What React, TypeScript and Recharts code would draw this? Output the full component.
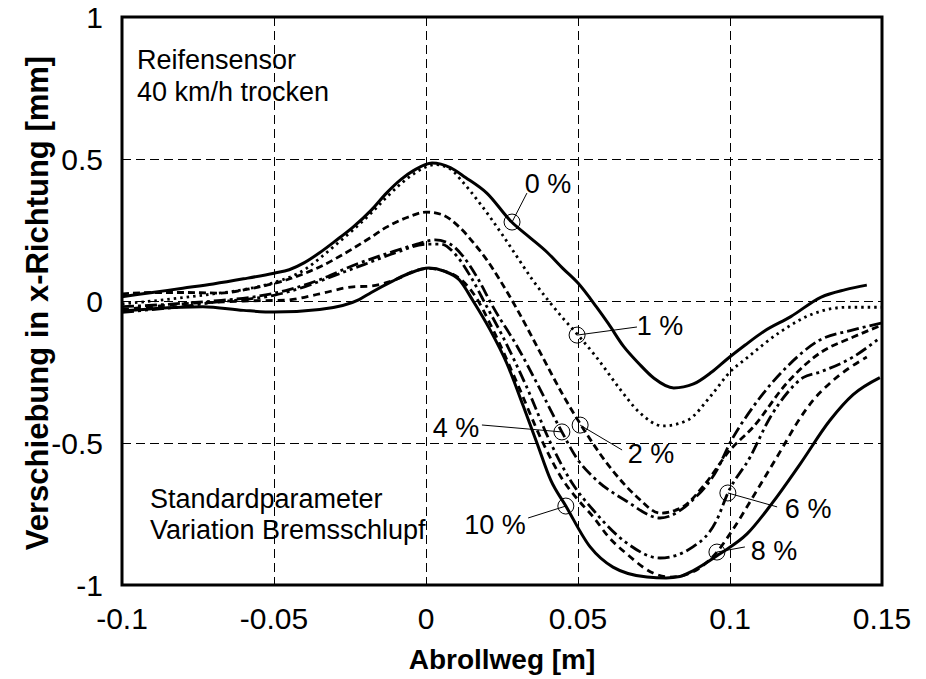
import React from 'react';
import { LineChart, Line, XAxis, YAxis, CartesianGrid, ReferenceArea, ReferenceDot, ReferenceLine } from 'recharts';

// x ticks / y ticks
const xTicks = [-0.1, -0.05, 0, 0.05, 0.1, 0.15];
const yTicks = [-1, -0.5, 0, 0.5, 1];

// 0 % slip (solid)
const s0X = [-0.1, -0.09, -0.08, -0.07, -0.06, -0.05, -0.045, -0.04, -0.035, -0.03, -0.024, -0.018, -0.013, -0.008, -0.004, 0.002, 0.008, 0.013, 0.02, 0.028, 0.034, 0.04, 0.045, 0.05, 0.056, 0.06, 0.065, 0.07, 0.075, 0.0815, 0.088, 0.094, 0.099, 0.105, 0.111, 0.12, 0.13, 0.138, 0.145];
const s0Y = [0.015, 0.03, 0.045, 0.06, 0.078, 0.098, 0.11, 0.135, 0.17, 0.21, 0.26, 0.32, 0.38, 0.43, 0.46, 0.486, 0.47, 0.435, 0.38, 0.28, 0.225, 0.17, 0.115, 0.063, -0.02, -0.08, -0.16, -0.22, -0.272, -0.306, -0.292, -0.25, -0.205, -0.155, -0.108, -0.055, 0.014, 0.04, 0.056];

// 1 % slip (dotted)
const s1X = [-0.1, -0.09, -0.08, -0.07, -0.06, -0.05, -0.04, -0.035, -0.03, -0.024, -0.018, -0.013, -0.008, -0.003, 0.003, 0.008, 0.012, 0.018, 0.025, 0.03, 0.035, 0.04, 0.045, 0.05, 0.056, 0.064, 0.07, 0.078, 0.086, 0.094, 0.1, 0.1056, 0.1164, 0.1273, 0.1385, 0.15];
const s1Y = [-0.01, 0.0, 0.012, 0.025, 0.04, 0.065, 0.11, 0.15, 0.195, 0.25, 0.31, 0.365, 0.415, 0.455, 0.48, 0.465, 0.42, 0.34, 0.235, 0.155, 0.075, 0.005, -0.06, -0.12, -0.197, -0.313, -0.39, -0.44, -0.42, -0.33, -0.25, -0.2, -0.11, -0.045, -0.022, -0.022];

// 2 % slip (dashed)
const s2X = [-0.1, -0.09, -0.08, -0.068, -0.057, -0.046, -0.035, -0.024, -0.018, -0.013, -0.006, 0.0, 0.005, 0.011, 0.016, 0.02, 0.0243, 0.03, 0.0375, 0.045, 0.051, 0.0605, 0.0694, 0.077, 0.0845, 0.091, 0.1, 0.1076, 0.1187, 0.1296, 0.1405, 0.15];
const s2Y = [0.025, 0.03, 0.03, 0.028, 0.045, 0.074, 0.12, 0.185, 0.225, 0.26, 0.295, 0.313, 0.305, 0.26, 0.2, 0.145, 0.074, -0.03, -0.18, -0.33, -0.437, -0.585, -0.69, -0.747, -0.725, -0.655, -0.525, -0.444, -0.289, -0.183, -0.127, -0.085];

// 4 % slip (dash-dot)
const s4X = [-0.1, -0.09, -0.08, -0.07, -0.057, -0.045, -0.035, -0.024, -0.012, -0.003, 0.003, 0.008, 0.012, 0.017, 0.022, 0.03, 0.037, 0.0447, 0.05, 0.055, 0.066, 0.077, 0.0878, 0.0957, 0.1, 0.1076, 0.1187, 0.1296, 0.1405, 0.15];
const s4Y = [-0.02, -0.015, -0.008, 0.0, 0.014, 0.04, 0.075, 0.125, 0.17, 0.2, 0.215, 0.2, 0.16, 0.08, -0.02, -0.16, -0.3, -0.461, -0.56, -0.62, -0.705, -0.764, -0.7, -0.595, -0.5, -0.373, -0.232, -0.137, -0.102, -0.077];

// 6 % slip (dash-dot-dot)
const s6X = [-0.1, -0.09, -0.08, -0.07, -0.06, -0.05, -0.04, -0.03, -0.02, -0.01, 0.0, 0.005, 0.01, 0.015, 0.02, 0.025, 0.033, 0.041, 0.048, 0.055, 0.066, 0.077, 0.0878, 0.0957, 0.0993, 0.1066, 0.1132, 0.1188, 0.124, 0.1296, 0.1405, 0.1493];
const s6Y = [-0.04, -0.03, -0.02, -0.005, 0.005, 0.02, 0.05, 0.09, 0.13, 0.17, 0.2, 0.2, 0.16, 0.08, -0.02, -0.12, -0.3, -0.5, -0.64, -0.736, -0.852, -0.905, -0.866, -0.77, -0.676, -0.55, -0.41, -0.324, -0.27, -0.25, -0.197, -0.13];

// 8 % slip (dashed)
const s8X = [-0.1, -0.09, -0.08, -0.07, -0.06, -0.046, -0.035, -0.024, -0.019, -0.009, -0.004, 0.001, 0.006, 0.011, 0.016, 0.022, 0.03, 0.0385, 0.045, 0.05, 0.055, 0.06, 0.066, 0.0747, 0.08, 0.085, 0.09, 0.0957, 0.1, 0.1089, 0.1174, 0.122, 0.1273, 0.1329, 0.145];
const s8Y = [-0.03, -0.02, -0.01, -0.005, 0.0, 0.003, 0.025, 0.05, 0.052, 0.08, 0.105, 0.115, 0.105, 0.08, 0.02, -0.1, -0.29, -0.5, -0.63, -0.7, -0.76, -0.83, -0.89, -0.958, -0.972, -0.965, -0.94, -0.884, -0.82, -0.666, -0.514, -0.43, -0.35, -0.289, -0.197];

// 10 % slip (solid)
const s10X = [-0.1, -0.09, -0.0734, -0.06, -0.05, -0.035, -0.022, -0.018, -0.011, -0.006, 0.001, 0.006, 0.011, 0.0155, 0.021, 0.0266, 0.032, 0.0365, 0.041, 0.046, 0.054, 0.0615, 0.0727, 0.079, 0.0835, 0.0878, 0.0967, 0.1056, 0.114, 0.123, 0.1329, 0.1405, 0.1493];
const s10Y = [-0.035, -0.027, -0.02, -0.033, -0.039, -0.03, 0.005, 0.03, 0.07, 0.095, 0.116, 0.105, 0.074, 0.0, -0.1, -0.22, -0.37, -0.5, -0.63, -0.722, -0.866, -0.937, -0.972, -0.975, -0.97, -0.95, -0.89, -0.82, -0.71, -0.575, -0.42, -0.33, -0.27];

// annotation labels
const annoText = ['0 %', '1 %', '2 %', '4 %', '6 %', '8 %', '10 %'];
const circleX = [0.0283, 0.0497, 0.0507, 0.0447, 0.0993, 0.0957, 0.046];
const circleY = [0.278, -0.12, -0.437, -0.461, -0.676, -0.884, -0.722];
const leaderX = [0.0332, 0.0694, 0.0645, 0.0184, 0.1155, 0.1049, 0.0336];
const leaderY = [0.38, -0.0915, -0.5246, -0.4366, -0.725, -0.866, -0.764];
const labelX = [0.0401, 0.077, 0.074, 0.0099, 0.1257, 0.1145, 0.0227];
const labelY = [0.4155, -0.0845, -0.535, -0.444, -0.729, -0.877, -0.785];

// free text blocks
const noteText = ['Reifensensor', '40 km/h trocken', 'Standardparameter', 'Variation Bremsschlupf'];
const noteX = [-0.0951, -0.0951, -0.0908, -0.0908];
const noteY = [0.85, 0.737, -0.696, -0.805];

const zip = (xs: number[], ys: number[]) => xs.map((x, i) => ({ x, y: ys[i] }));

const series = [
  { name: '0 %', data: zip(s0X, s0Y), dash: undefined as string | undefined, w: 3 },
  { name: '1 %', data: zip(s1X, s1Y), dash: '2.5 4', w: 2.8 },
  { name: '2 %', data: zip(s2X, s2Y), dash: '7 4', w: 2.8 },
  { name: '4 %', data: zip(s4X, s4Y), dash: '12 4 3 4', w: 2.8 },
  { name: '6 %', data: zip(s6X, s6Y), dash: '12 4 3 4 3 4', w: 2.8 },
  { name: '8 %', data: zip(s8X, s8Y), dash: '7 5', w: 2.8 },
  { name: '10 %', data: zip(s10X, s10Y), dash: undefined, w: 3 },
];

const FONT = '"Liberation Sans", Arial, Helvetica, sans-serif';

export default function App() {
  return (
    <div style={{ position: 'absolute', left: 0, top: 0, width: 926, height: 679, background: '#fff', fontFamily: FONT }}>
      <LineChart width={926} height={679} margin={{ top: 17, right: 44, bottom: 64, left: 62 }}>
        <CartesianGrid
          stroke="#000"
          strokeWidth={1}
          strokeDasharray="9 5"
          shapeRendering="crispEdges"
          horizontalValues={[-0.5, 0, 0.5]}
          verticalValues={[-0.05, 0, 0.05, 0.1]}
        />
        <XAxis
          type="number"
          dataKey="x"
          domain={[-0.1, 0.15]}
          ticks={xTicks}
          height={30}
          axisLine={false}
          tickLine={false}
          tickSize={0}
          tickMargin={23}
          tick={{ fontSize: 30, fill: '#000', fontFamily: FONT }}
          allowDataOverflow
        />
        <YAxis
          type="number"
          dataKey="y"
          domain={[-1, 1]}
          ticks={yTicks}
          width={60}
          axisLine={false}
          tickLine={false}
          tickSize={0}
          tickMargin={19}
          tick={{ fontSize: 30, fill: '#000', fontFamily: FONT }}
          allowDataOverflow
        />
        {series.map((s) => (
          <Line
            key={s.name}
            data={s.data}
            dataKey="y"
            type="monotone"
            stroke="#000"
            strokeWidth={s.w}
            strokeDasharray={s.dash}
            dot={false}
            activeDot={false}
            isAnimationActive={false}
          />
        ))}
        {annoText.map((t, i) => (
          <ReferenceLine
            key={'l' + i}
            segment={[{ x: circleX[i], y: circleY[i] }, { x: leaderX[i], y: leaderY[i] }]}
            stroke="#000"
            strokeWidth={1}
          />
        ))}
        {annoText.map((t, i) => (
          <ReferenceDot key={'c' + i} x={circleX[i]} y={circleY[i]} r={8} fill="none" stroke="#000" strokeWidth={1} />
        ))}
        {annoText.map((t, i) => (
          <ReferenceDot
            key={'t' + i}
            x={labelX[i]}
            y={labelY[i]}
            r={0}
            fill="none"
            stroke="none"
            label={{ value: t, position: 'center', fontSize: 27, fill: '#000', fontFamily: FONT }}
          />
        ))}
        {noteText.map((t, i) => (
          <ReferenceDot
            key={'n' + i}
            x={noteX[i]}
            y={noteY[i]}
            r={0}
            fill="none"
            stroke="none"
            label={{ value: t, position: 'right', offset: 0, fontSize: 27, fill: '#000', fontFamily: FONT }}
          />
        ))}
        <ReferenceArea x1={-0.1} x2={0.15} y1={-1} y2={1} fill="none" fillOpacity={0} stroke="#000" strokeWidth={3} />
        <text x={502} y={669} textAnchor="middle" fontSize={28} fontWeight="bold" fontFamily={FONT} fill="#000">Abrollweg [m]</text>
        <text x={48} y={303} textAnchor="middle" fontSize={31} fontWeight="bold" fontFamily={FONT} fill="#000" transform="rotate(-90 48 303)">Verschiebung in x-Richtung [mm]</text>
      </LineChart>
    </div>
  );
}
